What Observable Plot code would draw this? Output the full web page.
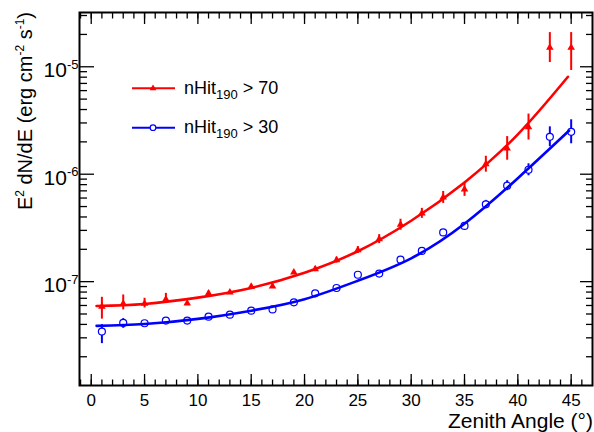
<!DOCTYPE html>
<html><head><meta charset="utf-8">
<script src="https://cdn.jsdelivr.net/npm/d3@7"></script>
<script src="https://cdn.jsdelivr.net/npm/@observablehq/plot@0.6"></script>
<style>
html,body{margin:0;padding:0;background:#fff}
#chart{width:594px;height:432px}
</style>
</head><body><div id="chart"></div>
<script>
// ---- data ----
const angles = [1,3,5,7,9,11,13,15,17,19,21,23,25,27,29,31,33,35,37,39,41,43,45];

const redVal = [5.85e-8,6.24e-8,6.24e-8,6.84e-8,6.28e-8,7.78e-8,7.95e-8,8.98e-8,9.04e-8,1.22e-7,1.31e-7,1.59e-7,1.97e-7,2.49e-7,3.39e-7,4.32e-7,6.08e-7,7.23e-7,1.24e-6,1.74e-6,2.75e-6,1.51e-5,1.51e-5];
const redLo  = [4.48e-8,5.46e-8,5.69e-8,6.41e-8,6.08e-8,7.41e-8,7.62e-8,8.6e-8,8.75e-8,1.17e-7,1.24e-7,1.49e-7,1.83e-7,2.26e-7,3.01e-7,3.88e-7,5.35e-7,6.22e-7,1.045e-6,1.35e-6,2.08e-6,1.095e-5,9.24e-6];
const redHi  = [7.15e-8,7.52e-8,7.0e-8,7.78e-8,6.49e-8,8.16e-8,8.3e-8,9.37e-8,9.34e-8,1.27e-7,1.38e-7,1.69e-7,2.12e-7,2.74e-7,3.81e-7,4.81e-7,6.91e-7,8.4e-7,1.47e-6,2.24e-6,3.63e-6,2.08e-5,2.08e-5];

const blueVal = [3.43e-8,4.13e-8,4.10e-8,4.34e-8,4.34e-8,4.72e-8,4.93e-8,5.37e-8,5.52e-8,6.42e-8,7.78e-8,8.73e-8,1.16e-7,1.19e-7,1.60e-7,1.93e-7,2.87e-7,3.30e-7,5.24e-7,7.82e-7,1.10e-6,2.23e-6,2.48e-6];
const blueLo  = [2.65e-8,3.68e-8,3.93e-8,4.16e-8,4.2e-8,4.57e-8,4.77e-8,5.2e-8,5.34e-8,6.21e-8,7.45e-8,8.36e-8,1.11e-7,1.14e-7,1.53e-7,1.85e-7,2.75e-7,3.16e-7,4.81e-7,7.03e-7,9.67e-7,1.8e-6,1.92e-6];
const blueHi  = [3.98e-8,4.53e-8,4.28e-8,4.53e-8,4.48e-8,4.88e-8,5.09e-8,5.55e-8,5.7e-8,6.63e-8,8.12e-8,9.11e-8,1.21e-7,1.24e-7,1.67e-7,2.01e-7,3.0e-7,3.44e-7,5.71e-7,8.7e-7,1.25e-6,2.76e-6,3.21e-6];

const redFitAngle = [0.5,5,10,15,20,25,30,35,40,44.7];
const redFitVal   = [5.94e-8,6.2e-8,7.1e-8,8.74e-8,1.21e-7,1.92e-7,3.69e-7,8.39e-7,2.35e-6,8.07e-6];
const blueFitAngle = [0.5,5,10,15,20,25,30,35,40,44.8];
const blueFitVal   = [3.88e-8,4.03e-8,4.5e-8,5.37e-8,6.87e-8,1.02e-7,1.65e-7,3.46e-7,9.18e-7,2.54e-6];

const xMajorTicks = [0,5,10,15,20,25,30,35,40,45];
const xMinorTicks = [-1,0,1,2,3,4,5,6,7,8,9,10,11,12,13,14,15,16,17,18,19,20,21,22,23,24,25,26,27,28,29,30,31,32,33,34,35,36,37,38,39,40,41,42,43,44,45,46];
const yMajorTicks = [1e-7,1e-6,1e-5];
const yMajorLabels = ["10^-7","10^-6","10^-5"];
const yMinorTicks = [2e-8,3e-8,4e-8,5e-8,6e-8,7e-8,8e-8,9e-8,2e-7,3e-7,4e-7,5e-7,6e-7,7e-7,8e-7,9e-7,2e-6,3e-6,4e-6,5e-6,6e-6,7e-6,8e-6,9e-6,2e-5,3e-5];

const seriesNames = ["> 70","> 30"];
const xTitle = "Zenith Angle (°)";

const RED = "#ff0000", BLUE = "#0000ff";

const red = angles.map((a,i)=>({a, v:redVal[i], lo:redLo[i], hi:redHi[i]}));
const blue = angles.map((a,i)=>({a, v:blueVal[i], lo:blueLo[i], hi:blueHi[i]}));
const redFit = redFitAngle.map((a,i)=>({a, v:redFitVal[i]}));
const blueFit = blueFitAngle.map((a,i)=>({a, v:blueFitVal[i]}));
const yLab = yMajorTicks.map((v,i)=>({v, t:yMajorLabels[i]}));

const tickStyle = {stroke:"black", strokeWidth:1.3, label:null, tickFormat:()=>""};

const chart = Plot.plot({
  width:594, height:432,
  marginLeft:79, marginRight:2, marginTop:12, marginBottom:47,
  x:{domain:[-1.1,47]},
  y:{type:"log", domain:[1.08e-8,3.2e-5]},
  style:{fontFamily:"'Liberation Sans', Arial, sans-serif", background:"white", color:"black"},
  marks:[
    // ticks (inside the frame, ROOT style)
    Plot.axisX({...tickStyle, anchor:"bottom", ticks:xMinorTicks, tickSize:-5.5}),
    Plot.axisX({...tickStyle, anchor:"bottom", ticks:xMajorTicks, tickSize:-11}),
    Plot.axisX({...tickStyle, anchor:"top", ticks:xMinorTicks, tickSize:-5.5}),
    Plot.axisX({...tickStyle, anchor:"top", ticks:xMajorTicks, tickSize:-11}),
    Plot.axisY({...tickStyle, anchor:"left", ticks:yMinorTicks, tickSize:-8}),
    Plot.axisY({...tickStyle, anchor:"left", ticks:yMajorTicks, tickSize:-15}),
    Plot.axisY({...tickStyle, anchor:"right", ticks:yMinorTicks, tickSize:-7}),
    Plot.axisY({...tickStyle, anchor:"right", ticks:yMajorTicks, tickSize:-13}),
    // tick labels
    Plot.axisX({anchor:"bottom", ticks:xMajorTicks, tickSize:0, tickPadding:8, fontSize:17, label:null, tickFormat:d=>String(d)}),
    Plot.text(yLab, {y:"v", text:"t", frameAnchor:"left", textAnchor:"end", dx:-1, dy:3.7, fontSize:21, fill:"black"}),
    // data: error bars, marker interiors (hide bars inside), fits, markers
    Plot.ruleX(red, {x:"a", y1:"lo", y2:"hi", stroke:RED, strokeWidth:2}),
    Plot.ruleX(blue, {x:"a", y1:"lo", y2:"hi", stroke:BLUE, strokeWidth:2}),
    Plot.dot(blue, {x:"a", y:"v", symbol:"circle", r:3.5, fill:"white", stroke:null}),
    Plot.line(redFit, {x:"a", y:"v", stroke:RED, strokeWidth:2.6, curve:"natural"}),
    Plot.line(blueFit, {x:"a", y:"v", stroke:BLUE, strokeWidth:2.6, curve:"natural"}),
    Plot.dot(red, {x:"a", y:"v", symbol:"triangle", r:2.8, fill:RED, stroke:null}),
    Plot.dot(blue, {x:"a", y:"v", symbol:"circle", r:3.5, fill:"none", stroke:BLUE, strokeWidth:1.2}),
    Plot.frame({stroke:"black", strokeWidth:2})
  ]
});
document.getElementById("chart").appendChild(chart);

// ---- post-processing: superscripts, titles, legend ----
const svg = d3.select(chart);
svg.selectAll("text").filter(function(){ return this.textContent.includes("^"); }).each(function(){
  const t = d3.select(this);
  const [base, exp] = t.text().split("^");
  t.text(null);
  t.append("tspan").text(base);
  t.append("tspan").attr("font-size",13).attr("dy",-8.5).text(exp);
});

// y-axis title
const yt = svg.append("text")
  .attr("transform","translate(32,12) rotate(-90)")
  .attr("text-anchor","end").attr("font-size",20).attr("fill","black");
yt.append("tspan").text("E");
yt.append("tspan").attr("font-size",12).attr("dy",-8).text("2");
yt.append("tspan").attr("dy",8).text(" dN/dE (erg cm");
yt.append("tspan").attr("font-size",12).attr("dy",-8).text("-2");
yt.append("tspan").attr("dy",8).text(" s");
yt.append("tspan").attr("font-size",12).attr("dy",-8).text("-1");
yt.append("tspan").attr("dy",8).text(")");

// x-axis title
svg.append("text").attr("x",593).attr("y",428).attr("text-anchor","end")
  .attr("font-size",21).attr("fill","black").text(xTitle);

// legend
const leg = [{c:RED, y:88.3, sym:"tri", name:seriesNames[0]},{c:BLUE, y:127.7, sym:"circ", name:seriesNames[1]}];
leg.forEach(e=>{
  svg.append("line").attr("x1",132).attr("x2",175).attr("y1",e.y).attr("y2",e.y)
    .attr("stroke",e.c).attr("stroke-width",2);
  if(e.sym==="tri"){
    svg.append("path").attr("d",d3.symbol(d3.symbolTriangle, 20)()).attr("transform",`translate(153,${e.y})`).attr("fill",e.c);
  } else {
    svg.append("circle").attr("cx",153).attr("cy",e.y).attr("r",2.8).attr("fill","white").attr("stroke",e.c).attr("stroke-width",1.2);
  }
  const t = svg.append("text").attr("x",184).attr("y",e.y+5.3).attr("text-anchor","start").attr("font-size",18).attr("fill","black");
  t.append("tspan").text("nHit");
  t.append("tspan").attr("font-size",13).attr("dy",5).text("190");
  t.append("tspan").attr("dy",-5).text(" " + e.name);
});
</script>
</body></html>
